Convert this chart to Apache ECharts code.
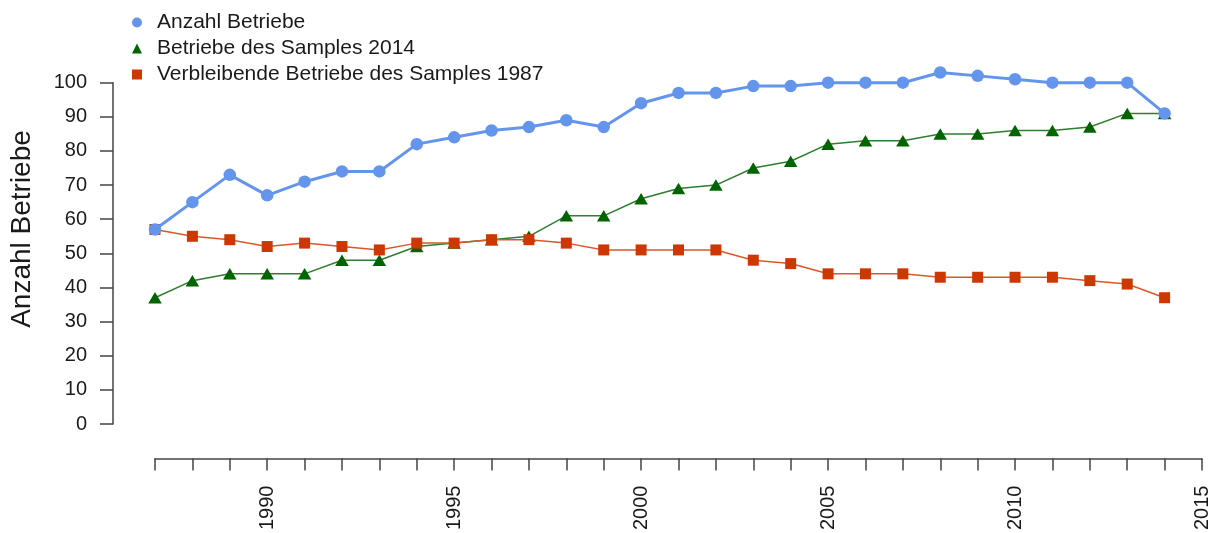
<!DOCTYPE html>
<html>
<head>
<meta charset="utf-8">
<title>Anzahl Betriebe</title>
<script src="https://cdn.jsdelivr.net/npm/echarts@6/dist/echarts.min.js"></script>
<style>
  html, body { margin: 0; padding: 0; background: #ffffff; }
  #chart { width: 1216px; height: 533px; }
</style>
</head>
<body>
<div id="chart"></div>
<script>
// Jahre 1987–2014
const years = [1987, 1988, 1989, 1990, 1991, 1992, 1993, 1994, 1995, 1996, 1997, 1998, 1999, 2000,
               2001, 2002, 2003, 2004, 2005, 2006, 2007, 2008, 2009, 2010, 2011, 2012, 2013, 2014];

const anzahlBetriebe = [57, 65, 73, 67, 71, 74, 74, 82, 84, 86, 87, 89, 87, 94,
                        97, 97, 99, 99, 100, 100, 100, 103, 102, 101, 100, 100, 100, 91];

const sample2014 = [37, 42, 44, 44, 44, 48, 48, 52, 53, 54, 55, 61, 61, 66,
                    69, 70, 75, 77, 82, 83, 83, 85, 85, 86, 86, 87, 91, 91];

const verbleibend1987 = [57, 55, 54, 52, 53, 52, 51, 53, 53, 54, 54, 53, 51, 51,
                         51, 51, 48, 47, 44, 44, 44, 43, 43, 43, 43, 42, 41, 37];

const seriesNames = ['Anzahl Betriebe', 'Betriebe des Samples 2014', 'Verbleibende Betriebe des Samples 1987'];
const yTitle = 'Anzahl Betriebe';

const FONT = '"Liberation Sans", Arial, Helvetica, sans-serif';
const AXIS_COLOR = '#444444';
const TEXT_COLOR = '#1a1a1a';
const BLUE = '#6495ED';
const GREEN = '#006400';
const GREEN_LINE = '#2f7d2f';
const RED = '#CD3700';
const RED_LINE = '#d9582a';

const pairs = arr => years.map((y, i) => [y, arr[i]]);

const chart = echarts.init(document.getElementById('chart'), null, { renderer: 'canvas' });

chart.setOption({
  animation: false,
  backgroundColor: '#ffffff',
  textStyle: { fontFamily: FONT },
  grid: { left: 155, right: 14, top: 82.7, bottom: 107.3, containLabel: false },
  legend: {
    orient: 'vertical',
    left: 132,
    top: 12,
    padding: 0,
    itemWidth: 10,
    itemHeight: 10,
    itemGap: 5,
    selectedMode: false,
    textStyle: { fontFamily: FONT, fontSize: 21, color: TEXT_COLOR, lineHeight: 21, padding: [0, 0, 0, 10] },
    data: [
      { name: seriesNames[0], icon: 'circle', itemStyle: { color: BLUE } },
      { name: seriesNames[1], icon: 'triangle', itemStyle: { color: GREEN } },
      { name: seriesNames[2], icon: 'rect', itemStyle: { color: RED } }
    ]
  },
  xAxis: {
    type: 'value',
    min: 1987,
    max: 2015,
    interval: 1,
    offset: 34.5,
    splitLine: { show: false },
    axisLine: { show: true, onZero: false, lineStyle: { color: AXIS_COLOR, width: 1.5 } },
    axisTick: { show: true, length: 12, lineStyle: { color: AXIS_COLOR, width: 1.5 } },
    axisLabel: {
      rotate: 90,
      margin: 27,
      fontSize: 20,
      color: TEXT_COLOR,
      fontFamily: FONT,
      showMinLabel: true,
      showMaxLabel: true,
      formatter: v => (v % 5 === 0 ? String(v) : '')
    }
  },
  yAxis: {
    type: 'value',
    min: 0,
    max: 100,
    interval: 10,
    offset: 42,
    splitLine: { show: false },
    axisLine: { show: true, onZero: false, lineStyle: { color: AXIS_COLOR, width: 1.5 } },
    axisTick: { show: true, length: 13, lineStyle: { color: AXIS_COLOR, width: 1.5 } },
    axisLabel: { margin: 26, fontSize: 20, color: TEXT_COLOR, fontFamily: FONT }
  },
  graphic: [{
    type: 'text',
    x: 22,
    y: 229,
    rotation: Math.PI / 2,
    style: {
      text: yTitle,
      fontFamily: FONT,
      fontSize: 28,
      fill: TEXT_COLOR,
      align: 'center',
      verticalAlign: 'middle'
    }
  }],
  series: [
    {
      name: seriesNames[0],
      type: 'line',
      data: pairs(anzahlBetriebe),
      clip: false,
      z: 4,
      symbol: 'circle',
      symbolSize: 12.5,
      lineStyle: { color: BLUE, width: 3 },
      itemStyle: { color: BLUE }
    },
    {
      name: seriesNames[1],
      type: 'line',
      data: pairs(sample2014),
      clip: false,
      z: 2,
      symbol: 'triangle',
      symbolSize: [13.5, 11.5],
      lineStyle: { color: GREEN_LINE, width: 1.5 },
      itemStyle: { color: GREEN }
    },
    {
      name: seriesNames[2],
      type: 'line',
      data: pairs(verbleibend1987),
      clip: false,
      z: 3,
      symbol: 'rect',
      symbolSize: 11,
      lineStyle: { color: RED_LINE, width: 1.5 },
      itemStyle: { color: RED }
    }
  ]
});
</script>
</body>
</html>
